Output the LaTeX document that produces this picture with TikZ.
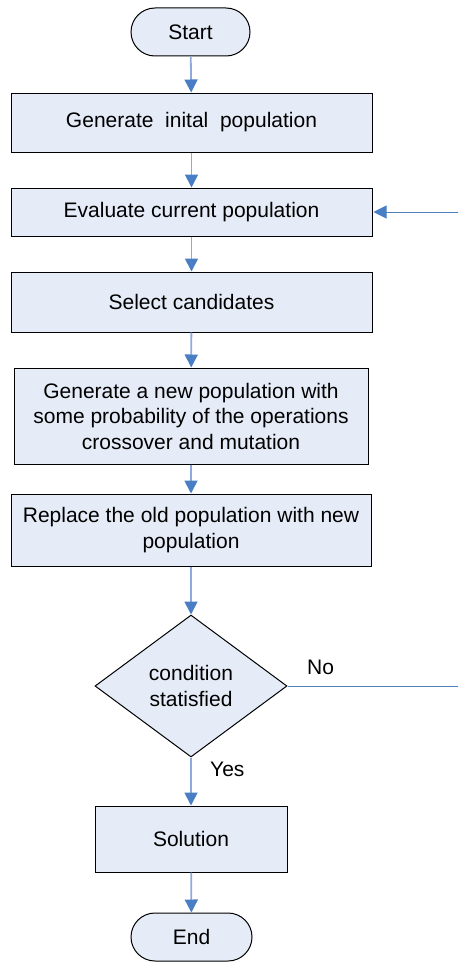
\documentclass[tikz,border=0pt]{standalone}
\usepackage{fontspec}
\setmainfont{Liberation Sans}
\usetikzlibrary{arrows.meta,shapes.geometric}

\definecolor{boxfill}{HTML}{E6ECF7}
\definecolor{linkblue}{HTML}{8EAADB}
\definecolor{tipblue}{HTML}{4A7EC4}
\definecolor{loopblue}{HTML}{4F81BD}

\tikzset{
  base/.style={draw=black, line width=1pt, fill=boxfill, inner sep=0pt,
    font=\fontsize{21}{25.5}\selectfont, align=center},
  procbox/.style={base, rectangle},
  termbox/.style={base, rectangle, rounded corners=24pt},
  decision/.style={base, diamond},
  flow/.style={draw=linkblue, line width=1.8pt,
    -{Triangle[length=13pt,width=13pt,color=tipblue]}},
  loopline/.style={draw=loopblue, line width=1pt},
  looparrow/.style={loopline, -{Triangle[length=13pt,width=13pt,color=tipblue]}},
  lbl/.style={font=\fontsize{21}{25.5}\selectfont, inner sep=0pt}
}

\begin{document}
\begin{tikzpicture}[x=1pt, y=-1pt]
  \useasboundingbox (0,0) rectangle (458,966);
  \clip (0,0) rectangle (458,966);

  % process steps
  \node[termbox, minimum width=119pt, minimum height=48pt] (start) at (190.5,32) {Start};
  \node[procbox, minimum width=361pt, minimum height=59pt] (init) at (191.5,122.5) {Generate\ \ inital\ \ population};
  \node[procbox, minimum width=361pt, minimum height=48pt] (eval) at (191.5,212) {Evaluate current population};
  \node[procbox, minimum width=361pt, minimum height=60pt] (select) at (191.5,302) {Select candidates};
  \node[procbox, minimum width=354pt, minimum height=96pt] (gen) at (191,416)
    {Generate a new population with\\some probability of the operations\\crossover and mutation};
  \node[procbox, minimum width=360pt, minimum height=72pt] (replace) at (191,530)
    {Replace the old population with new\\population};
  \node[decision, minimum width=192pt, minimum height=142pt] (cond) at (191,686)
    {condition\\statisfied};
  \node[procbox, minimum width=192pt, minimum height=66pt] (sol) at (191,839) {Solution};
  \node[termbox, minimum width=121pt, minimum height=48pt] (end) at (191.5,937) {End};

  % branch labels
  \node[lbl, anchor=west] (nolbl) at (307,667) {No};
  \node[lbl, anchor=west] (yeslbl) at (210,769) {Yes};

  % loop-back ends
  \coordinate (noend) at (460,686);
  \coordinate (backin) at (460,212);

  % connectors
  \draw[flow] (start) -- (init);
  \draw[flow] (init) -- (eval);
  \draw[flow] (eval) -- (select);
  \draw[flow] (select) -- (gen);
  \draw[flow] (gen) -- (replace);
  \draw[flow] (replace) -- (cond);
  \draw[flow] (cond) -- (sol);
  \draw[flow] (sol) -- (end);
  \draw[loopline] (cond.east) -- (noend);
  \draw[looparrow] (backin) -- ([xshift=1pt]eval.east);
\end{tikzpicture}
\end{document}
